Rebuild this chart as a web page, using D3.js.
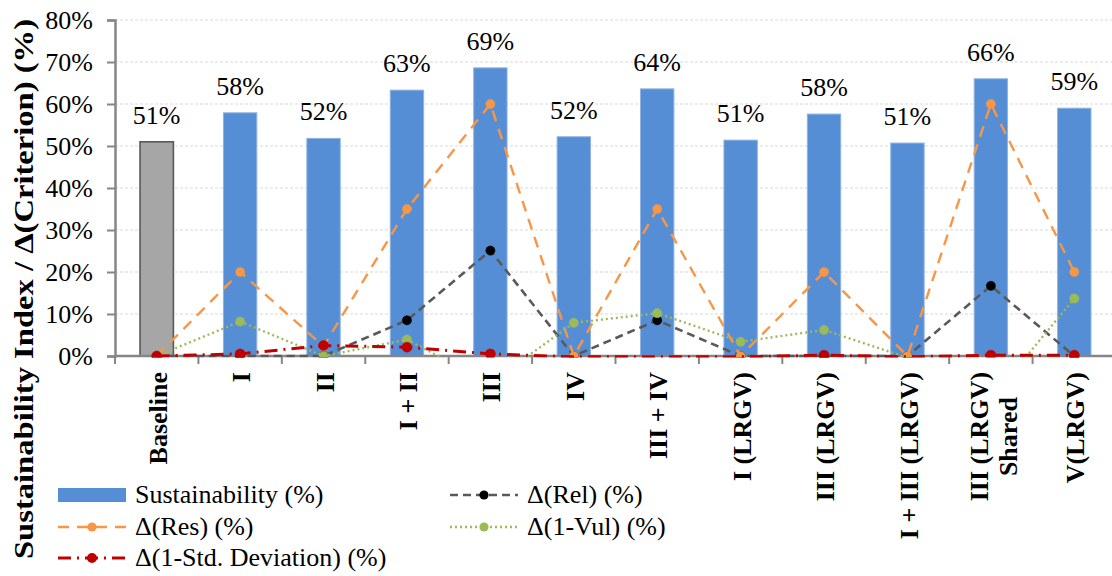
<!DOCTYPE html>
<html>
<head>
<meta charset="utf-8">
<script src="https://cdn.jsdelivr.net/npm/d3@7"></script>
<style>
  html, body { margin: 0; padding: 0; background: #fff; }
  svg { display: block; }
  .serif { font-family: 'Liberation Serif', 'Times New Roman', Times, serif; }
</style>
</head>
<body>
<svg id="chart" width="1112" height="576" class="serif" style="font-family:'Liberation Serif', serif"></svg>
<script>
// ---- data ----
const categories = ["Baseline", "I", "II", "I + II", "III", "IV", "III + IV", "I (LRGV)",
  "III (LRGV)", "I + III (LRGV)", "III (LRGV)\nShared", "V(LRGV)"];
const sustainability = [51.0, 57.9, 51.8, 63.3, 68.6, 52.2, 63.6, 51.4, 57.6, 50.7, 66.0, 59.0];
const deltaRel = [0, 0, 0, 8.5, 25.1, 0, 8.5, 0, 0, 0, 16.7, 0];
const deltaRes = [0, 20, 2.3, 35, 60, 0, 35, 0, 20, 0, 60, 20];
const deltaVul = [0, 8.2, 0, 3.9, -6.5, 7.9, 10.2, 3.4, 6.2, -0.4, -10.3, 13.7];
const deltaStd = [0, 0.5, 2.5, 2.1, 0.5, -0.2, -0.2, -0.2, 0.2, -0.2, 0.2, 0.2];
const yTicks = [0, 10, 20, 30, 40, 50, 60, 70, 80];
const yTitle = "Sustainability Index / \u0394(Criterion) (%)";

const FONT = "'Liberation Serif', 'Times New Roman', serif";

const lineSeries = [
  { name: "\u0394(Rel) (%)", values: deltaRel, color: "#595959", marker: "#000000", dash: "8,5", width: 2.6, r: 4.6 },
  { name: "\u0394(Res) (%)", values: deltaRes, color: "#F79646", marker: "#F79646", dash: "11,8", width: 2.4, r: 4.6 },
  { name: "\u0394(1-Vul) (%)", values: deltaVul, color: "#9BBB59", marker: "#9BBB59", dash: "2,3", width: 2.4, r: 4.6 },
  { name: "\u0394(1-Std. Deviation) (%)", values: deltaStd, color: "#C00000", marker: "#C00000", dash: "13,6,2,6", width: 3, r: 5 }
];

// ---- layout ----
const svg = d3.select("#chart");
const pLeft = 115, pRight = 1116, pTop = 20, pBottom = 356;

const x = d3.scaleBand().domain(categories).range([pLeft, pRight]).paddingInner(0.6).paddingOuter(0.3);
const y = d3.scaleLinear().domain([0, 80]).range([pBottom, pTop]);
const cx = c => x(c) + x.bandwidth() / 2;

function txt(sel) {
  return sel.attr("class", "serif").style("font-family", FONT).attr("fill", "#000");
}

// gridlines
svg.append("g").selectAll("line").data(yTicks.filter(t => t > 0)).join("line")
  .attr("x1", pLeft).attr("x2", pRight)
  .attr("y1", d => y(d)).attr("y2", d => y(d))
  .attr("stroke", "#D9D9D9").attr("stroke-width", 1).attr("stroke-dasharray", "3,2");

// bars
svg.append("g").selectAll("rect").data(categories).join("rect")
  .attr("x", d => x(d))
  .attr("width", x.bandwidth())
  .attr("y", (d, i) => y(sustainability[i]))
  .attr("height", (d, i) => y(0) - y(sustainability[i]))
  .attr("fill", (d, i) => i === 0 ? "#A6A6A6" : "#558ED5")
  .attr("stroke", (d, i) => i === 0 ? "#595959" : "#8DB3E2")
  .attr("stroke-width", (d, i) => i === 0 ? 1.6 : 1);

// bar labels
txt(svg.append("g").selectAll("text").data(categories).join("text"))
  .attr("x", d => cx(d))
  .attr("y", (d, i) => y(sustainability[i]) - 18)
  .attr("text-anchor", "middle")
  .style("font-size", "26px")
  .text((d, i) => Math.round(sustainability[i]) + "%");

// axes
const yAxis = d3.axisLeft(y).tickValues(yTicks).tickFormat(d => d + "%").tickSize(8).tickPadding(14);
const gy = svg.append("g").attr("transform", `translate(${pLeft},0)`).call(yAxis)
  .attr("font-family", null).attr("font-size", null);
gy.select(".domain").attr("stroke", "#868686").attr("stroke-width", 2.5);
gy.selectAll(".tick line").attr("stroke", "#868686").attr("stroke-width", 2);
txt(gy.selectAll(".tick text")).style("font-size", "26px");

// x axis line and boundary ticks
svg.append("line").attr("x1", pLeft).attr("x2", pRight).attr("y1", pBottom).attr("y2", pBottom)
  .attr("stroke", "#868686").attr("stroke-width", 2.5);
const boundaries = d3.range(categories.length + 1).map(i => pLeft + i * x.step());
svg.append("g").selectAll("line").data(boundaries).join("line")
  .attr("x1", d => d).attr("x2", d => d).attr("y1", pBottom).attr("y2", pBottom + 8)
  .attr("stroke", "#868686").attr("stroke-width", 2);

// lines
svg.append("defs").append("clipPath").attr("id", "plotclip")
  .append("rect").attr("x", pLeft).attr("y", pTop - 10).attr("width", pRight - pLeft).attr("height", pBottom + 1.5 - (pTop - 10));

const lineGen = d3.line().x((d, i) => cx(categories[i])).y(d => y(d));
const lg = svg.append("g").attr("clip-path", "url(#plotclip)");
lineSeries.forEach(s => {
  lg.append("path").datum(s.values).attr("d", lineGen)
    .attr("fill", "none").attr("stroke", s.color).attr("stroke-width", s.width)
    .attr("stroke-dasharray", s.dash);
  lg.append("g").selectAll("circle").data(s.values.map((v, i) => ({ v, i })).filter(d => d.v >= 0)).join("circle")
    .attr("cx", d => cx(categories[d.i])).attr("cy", d => y(d.v)).attr("r", s.r)
    .attr("fill", s.marker).attr("stroke", s.marker).attr("stroke-width", 0.5);
});

// x labels (rotated)
const xl = svg.append("g");
categories.forEach(c => {
  const lines = c.split("\n");
  const g = xl.append("g");
  if (lines.length === 1) {
    g.attr("transform", `translate(${cx(c) + 1},372) rotate(-90)`);
    txt(g.append("text")).attr("text-anchor", "end").attr("dy", "0.35em")
      .style("font-size", "26px").style("font-weight", "bold").text(c);
  } else {
    const t = txt(g.append("text")).attr("text-anchor", "middle")
      .style("font-size", "26px").style("font-weight", "bold");
    lines.forEach((ln, k) => {
      t.append("tspan").attr("x", 0).attr("y", (k - (lines.length - 1) / 2) * 29).attr("dy", "0.35em").text(ln);
    });
    const longest = lines.reduce((a, b) => (b.length > a.length ? b : a));
    const maxLen = 4.97 * 26 * (longest.length / 10);
    g.attr("transform", `translate(${cx(c) + 3},${372 + maxLen / 2}) rotate(-90)`);
  }
});

// y title
txt(svg.append("text"))
  .attr("transform", "translate(23,289) rotate(-90)")
  .attr("text-anchor", "middle").attr("dy", "0.35em")
  .style("font-size", "28px").style("font-weight", "bold")
  .attr("textLength", 540).attr("lengthAdjust", "spacingAndGlyphs")
  .text(yTitle);

// legend
const legendItems = [
  { type: "bar", name: "Sustainability (%)", col: 0, row: 0 },
  { type: "line", s: lineSeries[0], col: 1, row: 0 },
  { type: "line", s: lineSeries[1], col: 0, row: 1 },
  { type: "line", s: lineSeries[2], col: 1, row: 1 },
  { type: "line", s: lineSeries[3], col: 0, row: 2 }
];
const colX = [58, 450], rowBase = [503, 535, 566];
const lgd = svg.append("g");
legendItems.forEach(it => {
  const x0 = colX[it.col], yb = rowBase[it.row], yc = yb - 8, w = 68;
  if (it.type === "bar") {
    lgd.append("rect").attr("x", x0).attr("y", yc - 7).attr("width", w).attr("height", 14).attr("fill", "#558ED5");
  } else {
    lgd.append("line").attr("x1", x0).attr("x2", x0 + w).attr("y1", yc).attr("y2", yc)
      .attr("stroke", it.s.color).attr("stroke-width", it.s.width).attr("stroke-dasharray", it.s.dash);
    lgd.append("circle").attr("cx", x0 + w / 2).attr("cy", yc).attr("r", it.s.r).attr("fill", it.s.marker);
  }
  txt(lgd.append("text")).attr("x", x0 + w + 9).attr("y", yb)
    .style("font-size", "26px")
    .text(it.type === "bar" ? it.name : it.s.name);
});
</script>
</body>
</html>
